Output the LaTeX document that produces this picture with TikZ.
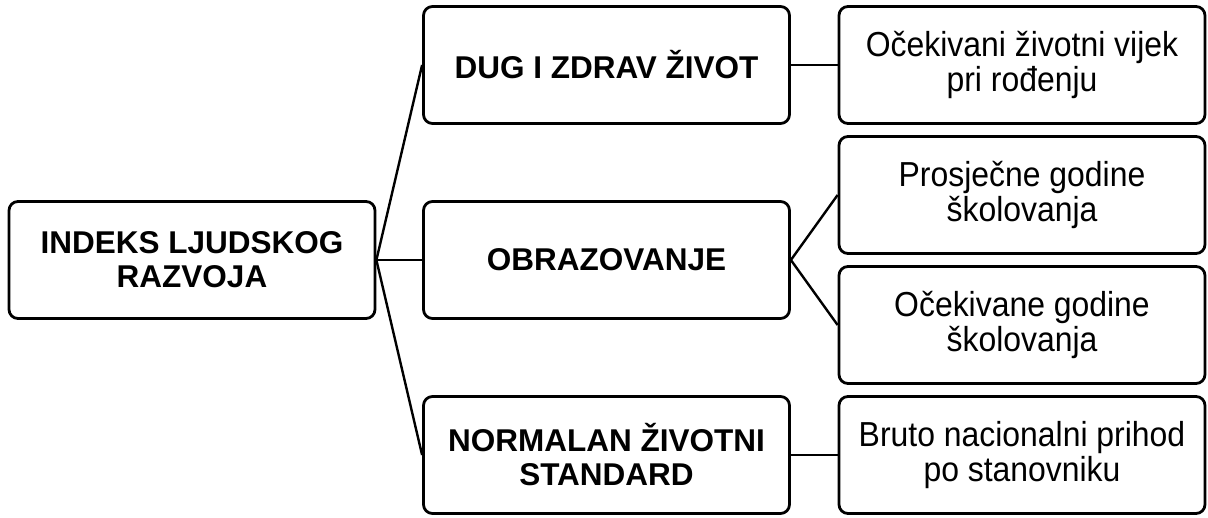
\documentclass[tikz,border=0pt]{standalone}
\usepackage{fontspec}
\setmainfont{Liberation Sans}
\newfontfamily\itemfont[FakeStretch=0.92]{Liberation Sans}
\usetikzlibrary{positioning}

\begin{document}
\begin{tikzpicture}[x=1pt,y=-1pt,line width=2.4pt,
        box/.style={draw=black,line width=2.8pt,rounded corners=9pt,
            minimum width=366pt,minimum height=117pt,inner sep=0pt,align=center},
        head/.style={box,font=\fontsize{31.5}{34}\selectfont\bfseries},
        item/.style={box,font=\itemfont\fontsize{34.7}{35}\selectfont}]
        \useasboundingbox (0,0) rectangle (1208,517);
        % Root
        \node[head] (hdi) at (192,260) {INDEKS LJUDSKOG\\RAZVOJA};
        % Dimensions
        \node[head] (life) at (606.5,65) {DUG I ZDRAV ŽIVOT};
        \node[head] (edu) at (606.5,260) {OBRAZOVANJE};
        \node[head] (living) at (606.5,455) {NORMALAN ŽIVOTNI\\STANDARD};
        % Indicators
        \node[item] (expect) at (1022,65) {Očekivani životni vijek\\pri rođenju};
        \node[item] (mean) at (1022,195) {Prosječne godine\\školovanja};
        \node[item] (school) at (1022,325) {Očekivane godine\\školovanja};
        \node[item] (income) at (1022,455) {Bruto nacionalni prihod\\po stanovniku};
        % Links
        \draw (hdi.east) -- (life.west);
        \draw (hdi.east) -- (edu.west);
        \draw (hdi.east) -- (living.west);
        \draw (life.east) -- (expect.west);
        \draw (edu.east) -- (mean.west);
        \draw (edu.east) -- (school.west);
        \draw (living.east) -- (income.west);
\end{tikzpicture}
\end{document}
